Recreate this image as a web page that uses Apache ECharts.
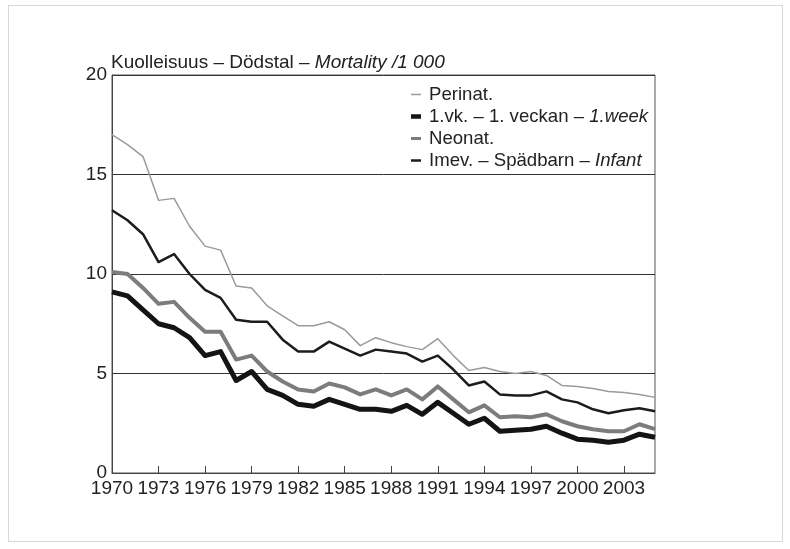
<!DOCTYPE html>
<html>
<head>
<meta charset="utf-8">
<script src="https://cdn.jsdelivr.net/npm/echarts@6/dist/echarts.min.js"></script>
<style>
  html, body { margin: 0; padding: 0; background: #fff; }
  #frame { position: absolute; left: 8px; top: 5px; width: 773px; height: 535px; border: 1px solid #d8d8d8; }
  #chart { position: absolute; left: 0; top: 0; width: 790px; height: 549px; }
</style>
</head>
<body>
<div id="frame"></div>
<div id="chart"></div>
<script>
// Kuolleisuus 1970-2005, per 1 000
const years = []
for (let y = 1970; y <= 2005; y++) years.push(String(y))

const perinat = [17.0, 16.5, 15.9, 13.7, 13.8, 12.4, 11.4, 11.2, 9.4, 9.3, 8.4, 7.9, 7.4, 7.4, 7.6, 7.2, 6.4, 6.8, 6.55, 6.35,
  6.2, 6.75, 5.9, 5.15, 5.3, 5.1, 5.0, 5.1, 4.9, 4.4, 4.35, 4.25, 4.1, 4.05, 3.95, 3.8]
const firstWeek = [9.1, 8.9, 8.2, 7.5, 7.3, 6.8, 5.9, 6.1, 4.65, 5.1, 4.2, 3.9, 3.45, 3.35, 3.7, 3.45, 3.2, 3.2, 3.1, 3.4,
  2.95, 3.55, 3.0, 2.45, 2.75, 2.1, 2.15, 2.2, 2.35, 2.0, 1.7, 1.65, 1.55, 1.65, 1.95, 1.8]
const neonat = [10.1, 10.0, 9.3, 8.5, 8.6, 7.8, 7.1, 7.1, 5.7, 5.9, 5.1, 4.6, 4.2, 4.1, 4.5, 4.3, 3.95, 4.2, 3.9, 4.2,
  3.7, 4.35, 3.7, 3.05, 3.4, 2.8, 2.85, 2.8, 2.95, 2.6, 2.35, 2.2, 2.1, 2.1, 2.45, 2.2]
const infant = [13.2, 12.7, 12.0, 10.6, 11.0, 10.0, 9.2, 8.8, 7.7, 7.6, 7.6, 6.7, 6.1, 6.1, 6.6, 6.25, 5.9, 6.2, 6.1, 6.0,
  5.6, 5.9, 5.2, 4.4, 4.6, 3.95, 3.9, 3.9, 4.1, 3.7, 3.55, 3.2, 3.0, 3.15, 3.25, 3.1]

const legendTexts = {
  'Perinat.': '{n|Perinat.}',
  '1.vk.': '{n|1.vk. – 1. veckan – }{i|1.week}',
  'Neonat.': '{n|Neonat.}',
  'Imev.': '{n|Imev. – Spädbarn – }{i|Infant}'
}

const FONT = "'Liberation Sans Narrow', 'Liberation Sans', sans-serif"
const TXT = '#222'
const FS = 19

const rich = {
  n: { fontFamily: FONT, fontSize: FS, color: TXT, fontWeight: 'normal' },
  i: { fontFamily: FONT, fontSize: FS, color: TXT, fontWeight: 'normal', fontStyle: 'italic' }
}
const legendRich = {
  n: { fontFamily: FONT, fontSize: 18.6, color: TXT, fontWeight: 'normal' },
  i: { fontFamily: FONT, fontSize: 18.6, color: TXT, fontWeight: 'normal', fontStyle: 'italic' }
}

const chart = echarts.init(document.getElementById('chart'))

function line(name, data, color, width, z) {
  return {
    name, type: 'line', data, z,
    symbol: 'none', showSymbol: false,
    lineStyle: { color, width, join: 'round' },
    itemStyle: { color },
    animation: false
  }
}

chart.setOption({
  backgroundColor: 'transparent',
  textStyle: { fontFamily: FONT },
  title: {
    text: '{n|Kuolleisuus – Dödstal – }{i|Mortality /1 000}',
    left: 111, top: 53,
    padding: 0,
    textStyle: { fontWeight: 'normal', rich }
  },
  legend: {
    orient: 'vertical',
    left: 406, top: 80,
    itemWidth: 10, itemHeight: 10, itemGap: 3,
    symbolKeepAspect: true,
    data: [
      { name: 'Perinat.', icon: 'path://M0,0h10v1.5h-10z' },
      { name: '1.vk.', icon: 'path://M0,0h10v4.5h-10z' },
      { name: 'Neonat.', icon: 'path://M0,0h10v3h-10z' },
      { name: 'Imev.', icon: 'path://M0,0h10v2.5h-10z' }
    ],
    formatter: (name) => legendTexts[name],
    textStyle: { padding: [0, 0, 0, 3], rich: legendRich }
  },
  grid: {
    left: 112, top: 75, right: 135, bottom: 76,
    show: true, borderColor: '#555', borderWidth: 1
  },
  xAxis: {
    type: 'category',
    data: years,
    boundaryGap: false,
    axisLine: { lineStyle: { color: '#444', width: 1 } },
    axisTick: { inside: true, length: 7, interval: 2, lineStyle: { color: '#444' } },
    axisLabel: { interval: 2, color: TXT, fontSize: FS, fontFamily: FONT, margin: 6 },
    splitLine: { show: false }
  },
  yAxis: {
    type: 'value',
    min: 0, max: 20, interval: 5,
    axisLine: { show: true, lineStyle: { color: '#444', width: 1 } },
    axisTick: { show: false },
    axisLabel: { color: TXT, fontSize: FS, fontFamily: FONT, margin: 5 },
    splitLine: { lineStyle: { color: '#333', width: 1 } }
  },
  series: [
    line('Perinat.', perinat, '#9a9a9a', 1.5, 2),
    line('1.vk.', firstWeek, '#141414', 5, 3),
    line('Neonat.', neonat, '#7c7c7c', 4, 4),
    line('Imev.', infant, '#1c1c1c', 2.5, 5)
  ]
})
</script>
</body>
</html>
